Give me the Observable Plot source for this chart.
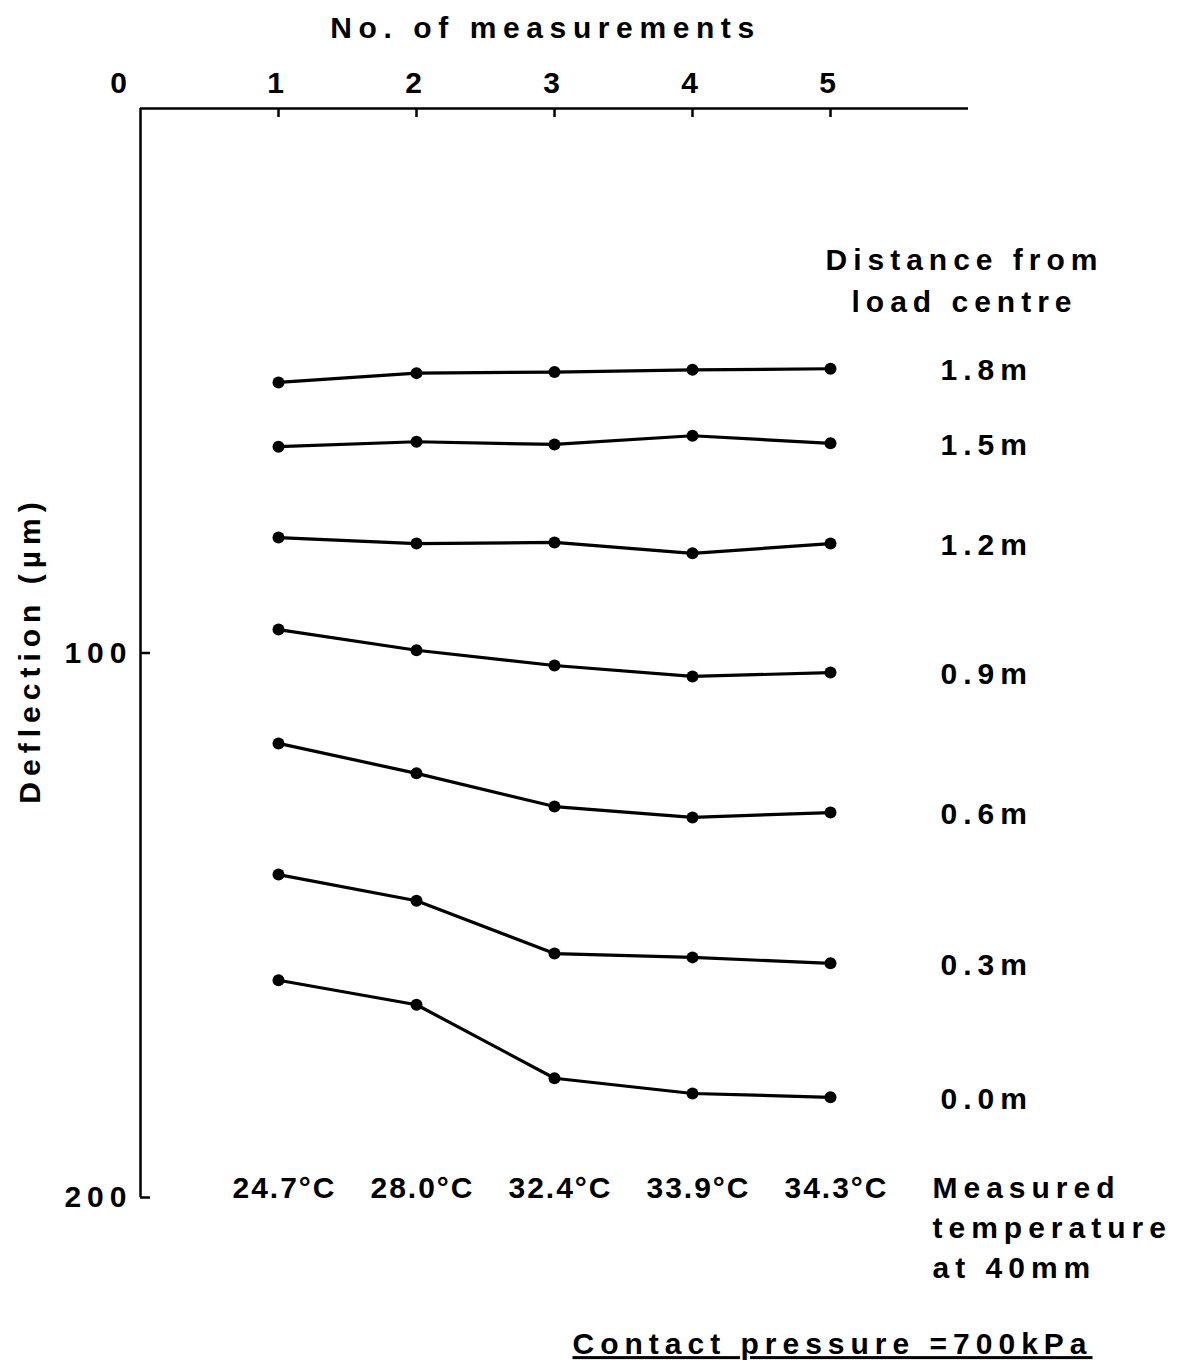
<!DOCTYPE html>
<html>
<head>
<meta charset="utf-8">
<script src="https://cdn.jsdelivr.net/npm/d3@7"></script>
<script src="https://cdn.jsdelivr.net/npm/@observablehq/plot@0.6"></script>
<style>
  html, body { margin: 0; padding: 0; background: #fff; }
  #chart svg { display: block; }
</style>
</head>
<body>
<div id="chart"></div>
<script>
// ---- data ----
const measurements = [1, 2, 3, 4, 5];
const temperatures = ["24.7°C", "28.0°C", "32.4°C", "33.9°C", "34.3°C"];
const distances = ["1.8m", "1.5m", "1.2m", "0.9m", "0.6m", "0.3m", "0.0m"];
const defl_1_8 = [50.3, 48.6, 48.4, 48.0, 47.8];
const defl_1_5 = [62.1, 61.2, 61.7, 60.1, 61.5];
const defl_1_2 = [78.8, 79.9, 79.7, 81.7, 79.9];
const defl_0_9 = [95.7, 99.5, 102.3, 104.3, 103.6];
const defl_0_6 = [116.6, 122.1, 128.2, 130.2, 129.3];
const defl_0_3 = [140.7, 145.5, 155.2, 155.9, 157.0];
const defl_0_0 = [160.1, 164.6, 178.1, 180.9, 181.6];
const xTicks = [1, 2, 3, 4, 5];
const yTicks = [100, 200];

const series = [defl_1_8, defl_1_5, defl_1_2, defl_0_9, defl_0_6, defl_0_3, defl_0_0];
const rows = [];
series.forEach((vals, s) => vals.forEach((v, i) => rows.push({dist: distances[s], n: measurements[i], deflection: v})));
const lastRows = rows.filter(d => d.n === measurements[measurements.length - 1]);

const FONT = "'Liberation Sans', Arial, Helvetica, sans-serif";

const chart = Plot.plot({
  width: 1190,
  height: 1366,
  marginLeft: 140,
  marginTop: 108,
  marginRight: 222,
  marginBottom: 169,
  style: {fontFamily: FONT, fontSize: "30px", fontWeight: "bold", color: "black", background: "white", overflow: "visible"},
  x: {domain: [0, 6]},
  y: {domain: [0, 200], reverse: true},
  marks: [
    Plot.ruleY([0], {stroke: "black", strokeWidth: 2.5}),
    Plot.ruleX([0], {stroke: "black", strokeWidth: 2.5}),
    Plot.axisX(xTicks, {anchor: "top", tickSize: -8, tickPadding: 24, label: null, strokeWidth: 2.5, fontSize: 30, tickFormat: d3.format("d")}),
    Plot.axisX([0], {anchor: "top", tickSize: 0, tickPadding: 16, dx: -19, label: null, fontSize: 30, tickFormat: d3.format("d")}),
    Plot.axisY(yTicks, {anchor: "left", tickSize: -10, tickPadding: 18, label: null, strokeWidth: 2.5, fontSize: 30, tickFormat: d3.format("d")}),
    Plot.line(rows, {x: "n", y: "deflection", z: "dist", stroke: "black", strokeWidth: 3.2}),
    Plot.dot(rows, {x: "n", y: "deflection", r: 6, fill: "black", stroke: "none"}),
    Plot.text(lastRows, {x: "n", y: "deflection", text: "dist", dx: 110, dy: 2, textAnchor: "start", lineAnchor: "middle", fontSize: 30}),
    Plot.text(measurements, {x: d => d, text: (d, i) => temperatures[i], frameAnchor: "bottom", lineAnchor: "middle", dy: -9, dx: 6, fontSize: 30}),
    Plot.text(["No. of measurements"], {text: d => d, frameAnchor: "top", lineAnchor: "middle", dy: -80, dx: -9, fontSize: 30}),
    Plot.text(["Deflection (µm)"], {text: d => d, frameAnchor: "left", textAnchor: "middle", lineAnchor: "middle", dx: -110, dy: -3, rotate: -90, fontSize: 30}),
    Plot.text(["Distance from\nload centre"], {text: d => d, frameAnchor: "top-right", lineAnchor: "middle", dx: -4, dy: 169, lineHeight: 1.4, textAnchor: "middle", fontSize: 30}),
    Plot.text(["Measured\ntemperature\nat 40mm"], {text: d => d, frameAnchor: "bottom-right", lineAnchor: "middle", dx: -36, dy: 28, lineHeight: 1.333, textAnchor: "start", fontSize: 30}),
    Plot.text(["Contact pressure =700kPa"], {text: d => d, frameAnchor: "bottom-right", lineAnchor: "middle", dx: -136, dy: 147, textAnchor: "middle", fontSize: 30})
  ]
});

document.getElementById("chart").appendChild(chart);

// letter spacing / underline styling
const svg = d3.select(chart);
svg.selectAll("text").each(function () {
  const t = this.textContent;
  const sel = d3.select(this);
  if (temperatures.includes(t)) sel.attr("letter-spacing", "2px");
  else if (t.startsWith("No.")) sel.attr("letter-spacing", "6.6px");
  else sel.attr("letter-spacing", "6px");
  if (t.startsWith("Contact")) sel.style("text-decoration", "underline");
});
</script>
</body>
</html>
